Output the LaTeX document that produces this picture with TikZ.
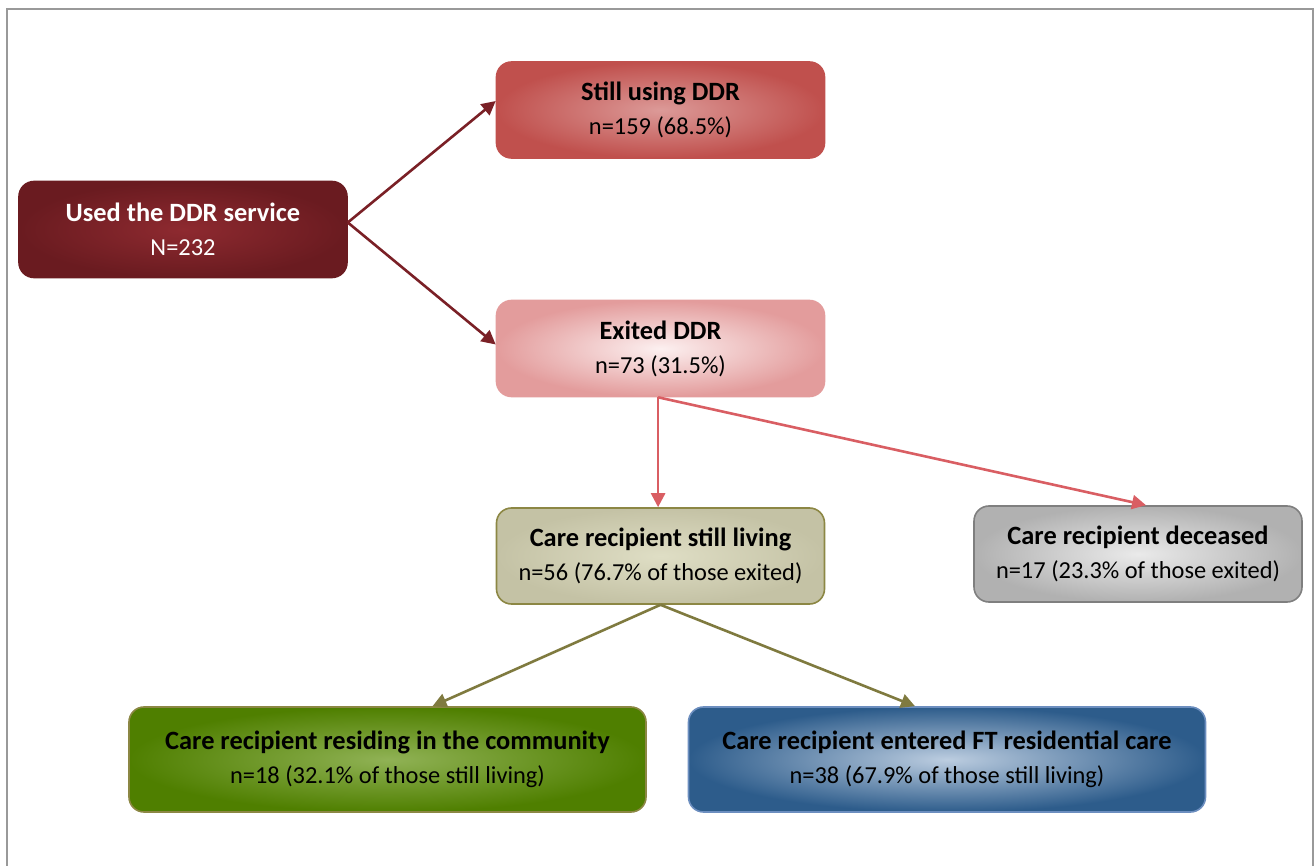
\documentclass[tikz,border=0pt]{standalone}
\usepackage{fontspec}
\setmainfont{Carlito}
\usetikzlibrary{arrows.meta,calc}
\definecolor{usedO}{HTML}{6A1B20}
\definecolor{usedI}{HTML}{8E2A30}
\definecolor{stillO}{HTML}{C0504D}
\definecolor{stillI}{HTML}{DC9A98}
\definecolor{exitO}{HTML}{E39C9C}
\definecolor{exitI}{HTML}{FCF0F0}
\definecolor{livO}{HTML}{C4C2A5}
\definecolor{livI}{HTML}{DFDEC5}
\definecolor{livB}{HTML}{8C8744}
\definecolor{decO}{HTML}{B1B1B1}
\definecolor{decI}{HTML}{EAEAEA}
\definecolor{decB}{HTML}{7F7F7F}
\definecolor{comO}{HTML}{4F7F00}
\definecolor{comI}{HTML}{90B255}
\definecolor{ftO}{HTML}{2D5C8B}
\definecolor{ftI}{HTML}{BCCDE0}
\definecolor{ftB}{HTML}{6C8EBF}
\definecolor{arrA}{HTML}{7A2026}
\definecolor{arrB}{HTML}{D95E63}
\definecolor{arrC}{HTML}{7F7A3F}
\definecolor{frame}{HTML}{999999}
\newcommand{\twolines}[2]{{\bfseries\fontsize{13.2}{17}\selectfont #1}\\{\fontsize{12.2}{17}\selectfont #2}}
\begin{document}
\begin{tikzpicture}[x=0.5pt,y=-0.5pt,
  box/.style={rounded corners=7.5pt, minimum width=164pt, minimum height=48pt, align=center, shading=radial, line width=0.8pt, inner sep=0pt, font=\fontsize{12.2}{17}\selectfont},
  wide/.style={box, minimum width=258.5pt, minimum height=52.5pt},
  arr/.style={line width=1.3pt, -{Triangle[length=7pt,width=7pt]}}]
\useasboundingbox (0,0) rectangle (1314,866);
\draw[frame, line width=1pt] (7,866) -- (7,9.5) -- (1313,9.5) -- (1313,866);

\node[box, draw=usedO, outer color=usedO, inner color=usedI, text=white] (used) at (183,229.5) {\twolines{Used the DDR service}{N=232}};
\node[box, draw=stillO, outer color=stillO, inner color=stillI] (still) at (660.5,110) {\twolines{Still using DDR}{n=159 (68.5\%)}};
\node[box, draw=exitO, outer color=exitO, inner color=exitI] (exited) at (660.5,348.5) {\twolines{Exited DDR}{n=73 (31.5\%)}};
\node[box, draw=livB, outer color=livO, inner color=livI] (living) at (660.5,556) {\twolines{Care recipient still living}{n=56 (76.7\% of those exited)}};
\node[box, draw=decB, outer color=decO, inner color=decI] (dec) at (1138,554) {\twolines{Care recipient deceased}{n=17 (23.3\% of those exited)}};
\node[wide, draw=livB, outer color=comO, inner color=comI] (comm) at (387.5,759.5) {\twolines{Care recipient residing in the community}{n=18 (32.1\% of those still living)}};
\node[wide, draw=ftB, outer color=ftO, inner color=ftI] (ft) at (947,759.5) {\twolines{Care recipient entered FT residential care}{n=38 (67.9\% of those still living)}};

\draw[arr, arrA] ([yshift=3.5pt]used.east) -- ([yshift=4.5pt]still.west);
\draw[arr, arrA] ([yshift=3.5pt]used.east) -- ([yshift=2pt]exited.west);
\draw[arr, arrB] ([xshift=-1.2pt]exited.south) -- ([xshift=-1.2pt]living.north);
\draw[arr, arrB] ([xshift=-1.2pt]exited.south) -- ([xshift=4pt]dec.north);
\draw[arr, arrC] (living.south) -- ([xshift=22.5pt]comm.north);
\draw[arr, arrC] (living.south) -- ([xshift=-16pt]ft.north);
\end{tikzpicture}
\end{document}
